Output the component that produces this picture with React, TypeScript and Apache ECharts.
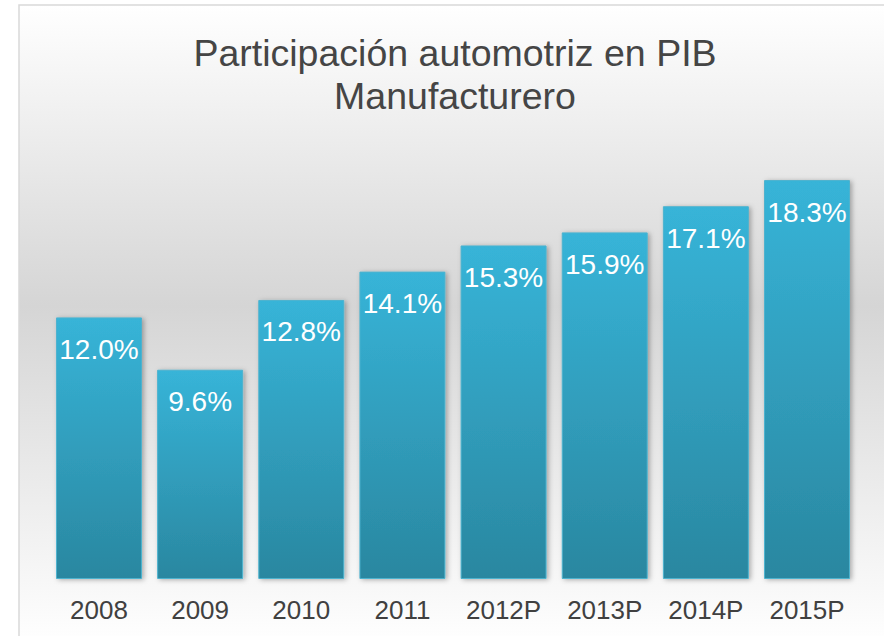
import React, { useEffect, useRef } from "react";
import * as echarts from "echarts";

const categories = ["2008", "2009", "2010", "2011", "2012P", "2013P", "2014P", "2015P"];
const values = [12.0, 9.6, 12.8, 14.1, 15.3, 15.9, 17.1, 18.3];
const titleLines = ["Participación automotriz en PIB", "Manufacturero"];

const FONT = "'Liberation Sans', Arial, sans-serif";

export default function App() {
  const ref = useRef<HTMLDivElement>(null);
  useEffect(() => {
    if (!ref.current) return;
    const chart = echarts.init(ref.current, null, { renderer: "svg" });
    chart.setOption({
      animation: false,
      textStyle: { fontFamily: FONT },
      graphic: [
        {
          type: "rect",
          z: -10,
          silent: true,
          shape: { x: 19, y: 5, width: 880, height: 640 },
          style: {
            fill: new echarts.graphic.LinearGradient(0, 0, 0, 1, [
              { offset: 0, color: "#ffffff" },
              { offset: 0.47, color: "#d5d5d5" },
              { offset: 0.95, color: "#fbfbfb" },
              { offset: 1, color: "#ffffff" },
            ]),
            stroke: "#d9d9d9",
            lineWidth: 1.5,
          },
        },
      ],
      title: {
        text: titleLines.join("\n"),
        left: 450,
        textAlign: "center",
        top: 26,
        textStyle: {
          fontSize: 37.5,
          fontWeight: "normal",
          color: "#454545",
          lineHeight: 43,
          fontFamily: FONT,
        },
      },
      grid: { left: 48.4, right: 26.4, top: 143, bottom: 57 },
      xAxis: {
        type: "category",
        data: categories,
        axisLine: { show: false },
        axisTick: { show: false },
        axisLabel: {
          fontSize: 26,
          color: "#404040",
          margin: 18,
          fontFamily: FONT,
        },
      },
      yAxis: {
        type: "value",
        min: 0,
        max: 20,
        show: false,
        splitLine: { show: false },
      },
      series: [
        {
          type: "bar",
          data: values,
          barCategoryGap: "15%",
          itemStyle: {
            color: new echarts.graphic.LinearGradient(0, 0, 0, 1, [
              { offset: 0, color: "#37b4d8" },
              { offset: 1, color: "#2a87a0" },
            ]),
            borderColor: "#4db3cf",
            borderWidth: 1,
            shadowColor: "rgba(0,0,0,0.3)",
            shadowBlur: 5,
            shadowOffsetX: 2,
            shadowOffsetY: 1,
          },
          label: {
            show: true,
            position: "insideTop",
            distance: 18,
            color: "#ffffff",
            fontSize: 28,
            fontFamily: FONT,
            formatter: (p: any) => p.value.toFixed(1) + "%",
          },
        },
      ],
    });
    return () => chart.dispose();
  }, []);
  return (
    <div
      ref={ref}
      style={{ position: "fixed", left: 0, top: 0, width: 884, height: 636, background: "#ffffff" }}
    />
  );
}
